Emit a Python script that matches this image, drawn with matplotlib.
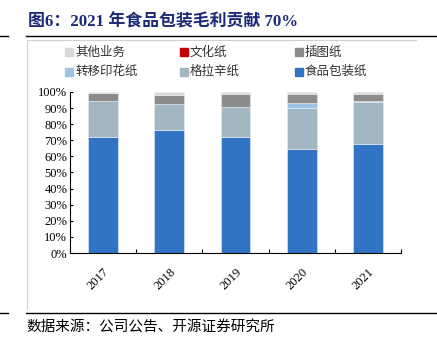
import numpy as np
import matplotlib.pyplot as plt
from matplotlib.patches import Rectangle
from matplotlib.lines import Line2D
from matplotlib.ticker import PercentFormatter

plt.rcParams['font.family'] = ['Liberation Serif', 'Noto Sans CJK SC', 'DejaVu Sans']

years = ['2017', '2018', '2019', '2020', '2021']
# shares of gross profit (%), bottom to top
food_pack = [72.2, 76.4, 72.0, 64.4, 67.7]
glassine = [22.4, 16.1, 18.9, 25.5, 25.9]
transfer = [0.0, 0.0, 0.0, 3.3, 0.8]
culture = [0.0, 0.0, 0.0, 0.0, 0.0]
illustration = [4.6, 5.6, 7.9, 5.6, 4.2]
other = [0.8, 1.9, 1.2, 1.2, 1.4]

series = [
    ('食品包装纸', food_pack, '#3174C6'),
    ('格拉辛纸', glassine, '#A2B7C2'),
    ('转移印花纸', transfer, '#9DC3E6'),
    ('文化纸', culture, '#C00000'),
    ('插图纸', illustration, '#8C8C8C'),
    ('其他业务', other, '#D9D9D9'),
]
legend_order = ['其他业务', '文化纸', '插图纸', '转移印花纸', '格拉辛纸', '食品包装纸']

W, H = 437, 343
fig = plt.figure(figsize=(W / 100, H / 100), dpi=100)
ax = fig.add_axes([70 / W, 1 - 253 / H, (401 - 70) / W, (253 - 92) / H])

x = np.arange(len(years))
bottom = np.zeros(len(years))
colors = {}
for name, vals, c in series:
    vals = np.array(vals)
    ax.bar(x, vals, 0.45, bottom=bottom, color=c, edgecolor='#E8EEF6', linewidth=0.4)
    bottom += vals
    colors[name] = c

ax.set_xlim(-0.5, len(years) - 0.5)
ax.set_ylim(0, 100)
ax.set_yticks(np.arange(0, 101, 10))
ax.yaxis.set_major_formatter(PercentFormatter(decimals=0))
ax.set_xticks(x)
ax.set_xticklabels(years, rotation=45, ha='right', rotation_mode='anchor')
ax.set_xticks(np.arange(-0.5, len(years), 1), minor=True)
ax.tick_params(axis='x', which='major', length=0, pad=9, labelsize=9)
ax.tick_params(axis='x', which='minor', length=3, direction='in', width=0.8)
ax.tick_params(axis='y', length=2.5, direction='in', labelsize=9, pad=2, width=0.8)
for s in ['top', 'right']:
    ax.spines[s].set_visible(False)
for s in ['left', 'bottom']:
    ax.spines[s].set_linewidth(0.8)

# legend, two rows of three
for i, name in enumerate(legend_order):
    px = 65 + (i % 3) * 115
    py = 52 + (i // 3) * 19.5
    fig.patches.append(Rectangle((px / W, 1 - (py + 4) / H), 8 / W, 8 / H,
                                 transform=fig.transFigure, color=colors[name]))
    fig.text((px + 10) / W, 1 - py / H, name, fontsize=9, va='center', ha='left',
             color='#333333', family=['Noto Sans CJK SC', 'DejaVu Sans'])

# title and frame lines
fig.text(28 / W, 1 - 22 / H, '图6：2021 年食品包装毛利贡献 70%', fontsize=12.2, fontweight='bold',
         color='#1B2A78', va='center', ha='left',
         family=['Liberation Serif', 'Noto Sans CJK SC'])
fig.lines.append(Line2D([26 / W, 1], [1 - 35.5 / H] * 2, transform=fig.transFigure, color='black', lw=1))
fig.lines.append(Line2D([0, 8 / W], [1 - 35.5 / H] * 2, transform=fig.transFigure, color='black', lw=1))
fig.lines.append(Line2D([27 / W, 416 / W], [1 - 40 / H] * 2, transform=fig.transFigure, color='#D0D0D0', lw=0.8))
fig.lines.append(Line2D([27 / W] * 2, [1 - 40 / H, 1 - 309 / H], transform=fig.transFigure, color='#D0D0D0', lw=0.8))
fig.lines.append(Line2D([26 / W, 1], [1 - 313 / H] * 2, transform=fig.transFigure, color='black', lw=1))
fig.lines.append(Line2D([0, 8 / W], [1 - 313 / H] * 2, transform=fig.transFigure, color='black', lw=1))

fig.text(26 / W, 1 - 328 / H, '数据来源：公司公告、开源证券研究所', fontsize=10.5, va='center', ha='left',
         color='black', family=['Noto Sans CJK SC', 'DejaVu Sans'])

fig.savefig('out.png', dpi=100)
